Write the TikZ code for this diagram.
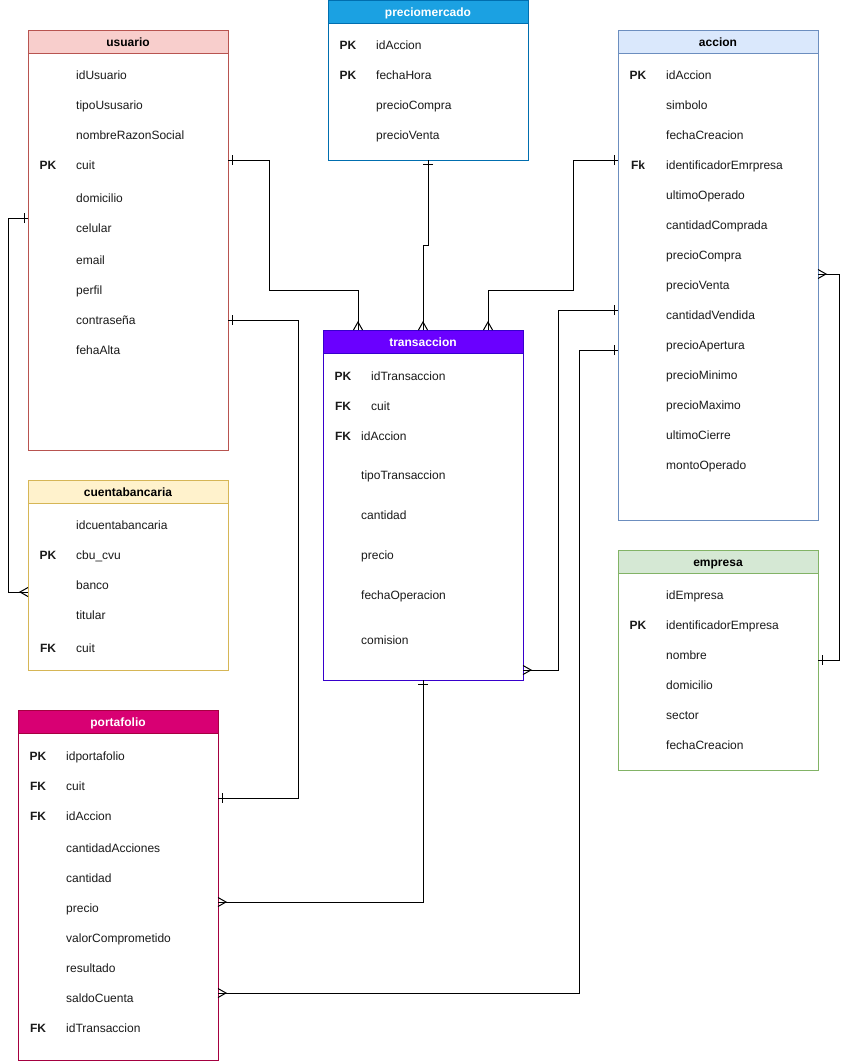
\documentclass[tikz,border=0pt]{standalone}
\usepackage{fontspec}
\setmainfont{Liberation Sans}
\usetikzlibrary{calc}

% Colours of the table headers and borders
\definecolor{usrFill}{HTML}{F8CECC}\definecolor{usrLine}{HTML}{B85450}
\definecolor{pmFill}{HTML}{1BA1E2}\definecolor{pmLine}{HTML}{006EAF}
\definecolor{accFill}{HTML}{DAE8FC}\definecolor{accLine}{HTML}{6C8EBF}
\definecolor{trFill}{HTML}{6A00FF}\definecolor{trLine}{HTML}{3700CC}
\definecolor{cbFill}{HTML}{FFF2CC}\definecolor{cbLine}{HTML}{D6B656}
\definecolor{empFill}{HTML}{D5E8D4}\definecolor{empLine}{HTML}{82B366}
\definecolor{pfFill}{HTML}{D80073}\definecolor{pfLine}{HTML}{A50040}
\definecolor{fieldText}{HTML}{1A1A1A}

\tikzset{
  tblbox/.style={draw, fill=white, line width=1pt, anchor=north west,
    minimum width=200pt, inner sep=0pt, outer sep=0pt},
  tblhead/.style={draw, line width=1pt, anchor=north west, minimum width=200pt,
    minimum height=23pt, inner sep=0pt, outer sep=0pt, text height=9pt,
    text depth=0pt, font=\fontsize{12}{14}\selectfont\bfseries},
  keytxt/.style={anchor=base, inner sep=0pt, font=\fontsize{12}{14}\selectfont\bfseries,
    text=fieldText},
  fldtxt/.style={anchor=base west, inner sep=0pt, font=\fontsize{12}{14}\selectfont,
    text=fieldText},
  relation/.style={draw=black, line width=1pt},
  erone/.pic={\draw[relation] (4,-5) -- (4,5);},
  ermany/.pic={\draw[relation] (0,-4.5) -- (8,0) -- (0,4.5);},
}

% #1 node name, #2 x, #3 y, #4 height, #5 fill, #6 border, #7 title, #8 title colour
\newcommand{\ertable}[8]{%
  \node[tblbox, draw=#6, minimum height=#4pt] (#1) at (#2,#3) {};
  \node[tblhead, draw=#6, fill=#5, text=#8] (#1-head) at (#2,#3) {#7};
}
% #1 node name, #2 key centre x, #3 field x, #4 row y, #5 key, #6 field
\newcommand{\ferow}[6]{%
  \node[keytxt] (#1-key) at ({#2},{#4+5.3}) {#5};
  \node[fldtxt] (#1) at ({#3},{#4+5.3}) {#6};
}

\begin{document}
\begin{tikzpicture}[x=1pt, y=-1pt]
\useasboundingbox (0,0) rectangle (849,1061);

% ---------- tables ----------
\ertable{usuario}{28}{30}{420}{usrFill}{usrLine}{usuario}{black}
\ferow{u1}{48}{76}{74}{}{idUsuario}
\ferow{u2}{48}{76}{104}{}{tipoUsusario}
\ferow{u3}{48}{76}{134}{}{nombreRazonSocial}
\ferow{u4}{48}{76}{164}{PK}{cuit}
\ferow{u5}{48}{76}{197}{}{domicilio}
\ferow{u6}{48}{76}{227}{}{celular}
\ferow{u7}{48}{76}{259}{}{email}
\ferow{u8}{48}{76}{289}{}{perfil}
\ferow{u9}{48}{76}{319}{}{contraseña}
\ferow{u10}{48}{76}{349}{}{fehaAlta}

\ertable{preciomercado}{328}{0}{160}{pmFill}{pmLine}{preciomercado}{white}
\ferow{p1}{348}{376}{44}{PK}{idAccion}
\ferow{p2}{348}{376}{74}{PK}{fechaHora}
\ferow{p3}{348}{376}{104}{}{precioCompra}
\ferow{p4}{348}{376}{134}{}{precioVenta}

\ertable{accion}{618}{30}{490}{accFill}{accLine}{accion}{black}
\ferow{a1}{638}{666}{74}{PK}{idAccion}
\ferow{a2}{638}{666}{104}{}{simbolo}
\ferow{a3}{638}{666}{134}{}{fechaCreacion}
\ferow{a4}{638}{666}{164}{Fk}{identificadorEmrpresa}
\ferow{a5}{638}{666}{194}{}{ultimoOperado}
\ferow{a6}{638}{666}{224}{}{cantidadComprada}
\ferow{a7}{638}{666}{254}{}{precioCompra}
\ferow{a8}{638}{666}{284}{}{precioVenta}
\ferow{a9}{638}{666}{314}{}{cantidadVendida}
\ferow{a10}{638}{666}{344}{}{precioApertura}
\ferow{a11}{638}{666}{374}{}{precioMinimo}
\ferow{a12}{638}{666}{404}{}{precioMaximo}
\ferow{a13}{638}{666}{434}{}{ultimoCierre}
\ferow{a14}{638}{666}{464}{}{montoOperado}

\ertable{transaccion}{323}{330}{350}{trFill}{trLine}{transaccion}{white}
\ferow{t1}{343}{371}{375}{PK}{idTransaccion}
\ferow{t2}{343}{371}{405}{FK}{cuit}
\ferow{t3}{343}{361}{435}{FK}{idAccion}
\ferow{t4}{343}{361}{474}{}{tipoTransaccion}
\ferow{t5}{343}{361}{514}{}{cantidad}
\ferow{t6}{343}{361}{554}{}{precio}
\ferow{t7}{343}{361}{594}{}{fechaOperacion}
\ferow{t8}{343}{361}{639}{}{comision}

\ertable{cuentabancaria}{28}{480}{190}{cbFill}{cbLine}{cuentabancaria}{black}
\ferow{c1}{48}{76}{524}{}{idcuentabancaria}
\ferow{c2}{48}{76}{554}{PK}{cbu\_cvu}
\ferow{c3}{48}{76}{584}{}{banco}
\ferow{c4}{48}{76}{614}{}{titular}
\ferow{c5}{48}{76}{647}{FK}{cuit}

\ertable{empresa}{618}{550}{220}{empFill}{empLine}{empresa}{black}
\ferow{e1}{638}{666}{594}{}{idEmpresa}
\ferow{e2}{638}{666}{624}{PK}{identificadorEmpresa}
\ferow{e3}{638}{666}{654}{}{nombre}
\ferow{e4}{638}{666}{684}{}{domicilio}
\ferow{e5}{638}{666}{714}{}{sector}
\ferow{e6}{638}{666}{744}{}{fechaCreacion}

\ertable{portafolio}{18}{710}{350}{pfFill}{pfLine}{portafolio}{white}
\ferow{f1}{38}{66}{755}{PK}{idportafolio}
\ferow{f2}{38}{66}{785}{FK}{cuit}
\ferow{f3}{38}{66}{815}{FK}{idAccion}
\ferow{f4}{38}{66}{847}{}{cantidadAcciones}
\ferow{f5}{38}{66}{877}{}{cantidad}
\ferow{f6}{38}{66}{907}{}{precio}
\ferow{f7}{38}{66}{937}{}{valorComprometido}
\ferow{f8}{38}{66}{967}{}{resultado}
\ferow{f9}{38}{66}{997}{}{saldoCuenta}
\ferow{f10}{38}{66}{1027}{FK}{idTransaccion}

% ---------- connection points on the table borders ----------
\coordinate (r1a) at ($(usuario.north east)+(0,130)$);
\coordinate (r1b) at ($(transaccion.north west)+(35,0)$);
\coordinate (r2a) at (preciomercado.south);
\coordinate (r2b) at (transaccion.north);
\coordinate (r3a) at ($(accion.north west)+(0,130)$);
\coordinate (r3b) at ($(transaccion.north west)+(165,0)$);
\coordinate (r4a) at ($(usuario.north east)+(0,290)$);
\coordinate (r4b) at ($(portafolio.north east)+(0,88)$);
\coordinate (r5a) at ($(usuario.north west)+(0,188)$);
\coordinate (r5b) at ($(cuentabancaria.north west)+(0,112)$);
\coordinate (r6a) at ($(transaccion.north east)+(0,340)$);
\coordinate (r6b) at ($(accion.north west)+(0,280)$);
\coordinate (r7a) at ($(portafolio.north east)+(0,283)$);
\coordinate (r7b) at ($(accion.north west)+(0,320)$);
\coordinate (r8a) at (transaccion.south);
\coordinate (r8b) at ($(portafolio.north east)+(0,192)$);
\coordinate (r9a) at ($(accion.north east)+(0,244)$);
\coordinate (r9b) at ($(empresa.north east)+(0,110)$);

% ---------- relations ----------
\draw[relation] (r1a) -| (269,290) -| (r1b);
\draw[relation] (r2a) |- (423,245) -- (r2b);
\draw[relation] (r3a) -| (573,290) -| (r3b);
\draw[relation] (r4a) -| (298,798) -- (r4b);
\draw[relation] (r5a) -| (8,592) -- (r5b);
\draw[relation] (r6a) -| (558,310) -- (r6b);
\draw[relation] (r7a) -| (579,350) -- (r7b);
\draw[relation] (r8a) |- (r8b);
\draw[relation] (r9a) -| (839,660) -- (r9b);

% ---------- cardinality marks ----------
\pic[rotate=0] at (r1a) {erone};
\pic[rotate=90] at (r1b) {ermany};
\pic[rotate=-90] at (r2a) {erone};
\pic[rotate=90] at (r2b) {ermany};
\pic[rotate=180] at (r3a) {erone};
\pic[rotate=90] at (r3b) {ermany};
\pic[rotate=0] at (r4a) {erone};
\pic[rotate=0] at (r4b) {erone};
\pic[rotate=180] at (r5a) {erone};
\pic[rotate=180] at (r5b) {ermany};
\pic[rotate=0] at (r6a) {ermany};
\pic[rotate=180] at (r6b) {erone};
\pic[rotate=0] at (r7a) {ermany};
\pic[rotate=180] at (r7b) {erone};
\pic[rotate=-90] at (r8a) {erone};
\pic[rotate=0] at (r8b) {ermany};
\pic[rotate=0] at (r9a) {ermany};
\pic[rotate=0] at (r9b) {erone};
\end{tikzpicture}
\end{document}
